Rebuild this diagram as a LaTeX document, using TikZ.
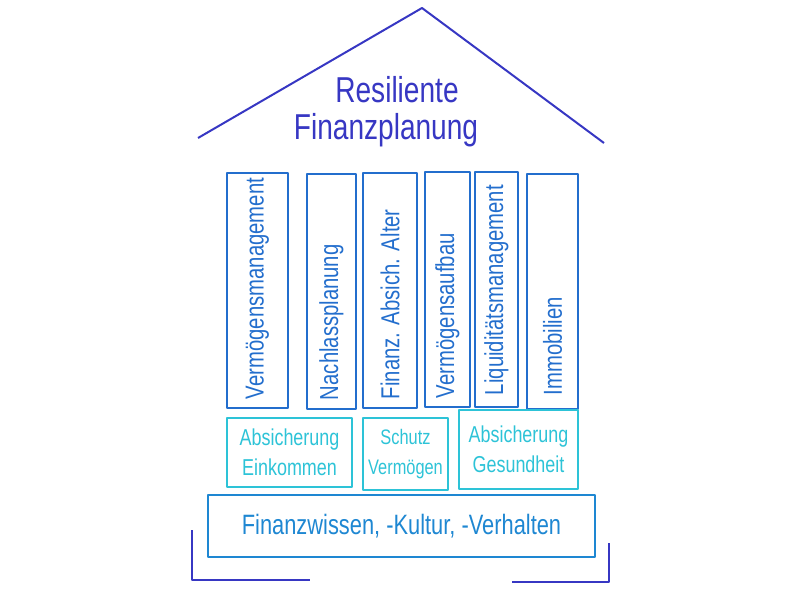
\documentclass[tikz,border=0pt]{standalone}
\usepackage{fontspec}
\setmainfont{Liberation Sans}
\usetikzlibrary{positioning}
\definecolor{roofblue}{RGB}{55,55,195}
\definecolor{pillarblue}{RGB}{35,110,205}
\definecolor{guardcyan}{RGB}{45,195,215}
\definecolor{baseblue}{RGB}{30,135,210}
\newcommand{\hw}[1]{\scalebox{0.78}[1]{#1}}

\begin{document}
\begin{tikzpicture}[x = 1pt, y = -1pt, line width = 2pt, line join = round,
    pillar/.style = { draw = pillarblue, minimum width = #1, minimum height = 235pt, inner sep = 0pt },
    pillartext/.style = { rotate = 90, anchor = west, text = pillarblue, inner sep = 0pt,
                          font = \fontsize{26}{30}\selectfont },
    guard/.style = { draw = guardcyan, text = guardcyan, align = center,
                     font = \fontsize{23}{30}\selectfont },
    roof/.style = { draw = roofblue }]
    \useasboundingbox (0,0) rectangle (800,600);

    % roof and title
    \coordinate (eaveL) at (198,138);
    \coordinate (ridge) at (422,8);
    \coordinate (eaveR) at (604,143);
    \draw [roof] (eaveL) -- (ridge) -- (eaveR);
    \node (title1) [text = roofblue, font = \fontsize{36}{44}\selectfont] at (397,90) { \hw{Resiliente} };
    \node (title2) [text = roofblue, font = \fontsize{36}{44}\selectfont] at (386,130) { \hw{Finanzplanung} };

    % pillars
    \node (col1) [pillar = 61pt] at (257.5,290.5) {};
    \node (col2) [pillar = 49pt] at (331.5,291.5) {};
    \node (col3) [pillar = 54pt] at (390,290.5) {};
    \node (col4) [pillar = 45pt] at (447.5,289.5) {};
    \node (col5) [pillar = 43pt] at (496.5,289.5) {};
    \node (col6) [pillar = 51pt] at (552.5,291.5) {};
    \node (txt1) [pillartext] at ([yshift = 9pt]col1.south) { \hw{Vermögensmanagement} };
    \node (txt2) [pillartext] at ([yshift = 9pt]col2.south) { \hw{Nachlassplanung} };
    \node (txt3) [pillartext] at ([yshift = 9pt]col3.south) { \hw{Finanz. Absich. Alter} };
    \node (txt4) [pillartext] at ([yshift = 9pt]col4.south) { \hw{Vermögensaufbau} };
    \node (txt5) [pillartext] at ([yshift = 12pt]col5.south) { \hw{Liquiditätsmanagement} };
    \node (txt6) [pillartext] at ([yshift = 14pt]col6.south) { \hw{Immobilien} };

    % protection row
    \node (guard1) [guard, minimum width = 125pt, minimum height = 69pt] at (289.5,452.5)
        { \hw{Absicherung} \\ \hw{Einkommen} };
    \node (guard2) [guard, minimum width = 85pt, minimum height = 72pt, font = \fontsize{21}{30}\selectfont] at (405.5,454)
        { \hw{Schutz} \\ \hw{Vermögen} };
    \node (guard3) [guard, minimum width = 119pt, minimum height = 79pt] at (518.5,449.5)
        { \hw{Absicherung} \\ \hw{Gesundheit} };

    % foundation
    \node (base) [draw = baseblue, text = baseblue, minimum width = 387pt, minimum height = 62pt,
                  font = \fontsize{28}{32}\selectfont] at (401.5,526) { \hw{Finanzwissen, -Kultur, -Verhalten} };
    \coordinate (footL1) at (192,530);
    \coordinate (footL2) at (192,580);
    \coordinate (footL3) at (310,580);
    \coordinate (footR1) at (609,543);
    \coordinate (footR2) at (609,582);
    \coordinate (footR3) at (512,582);
    \draw [roof] (footL1) -- (footL2) -- (footL3);
    \draw [roof] (footR1) -- (footR2) -- (footR3);
\end{tikzpicture}
\end{document}
